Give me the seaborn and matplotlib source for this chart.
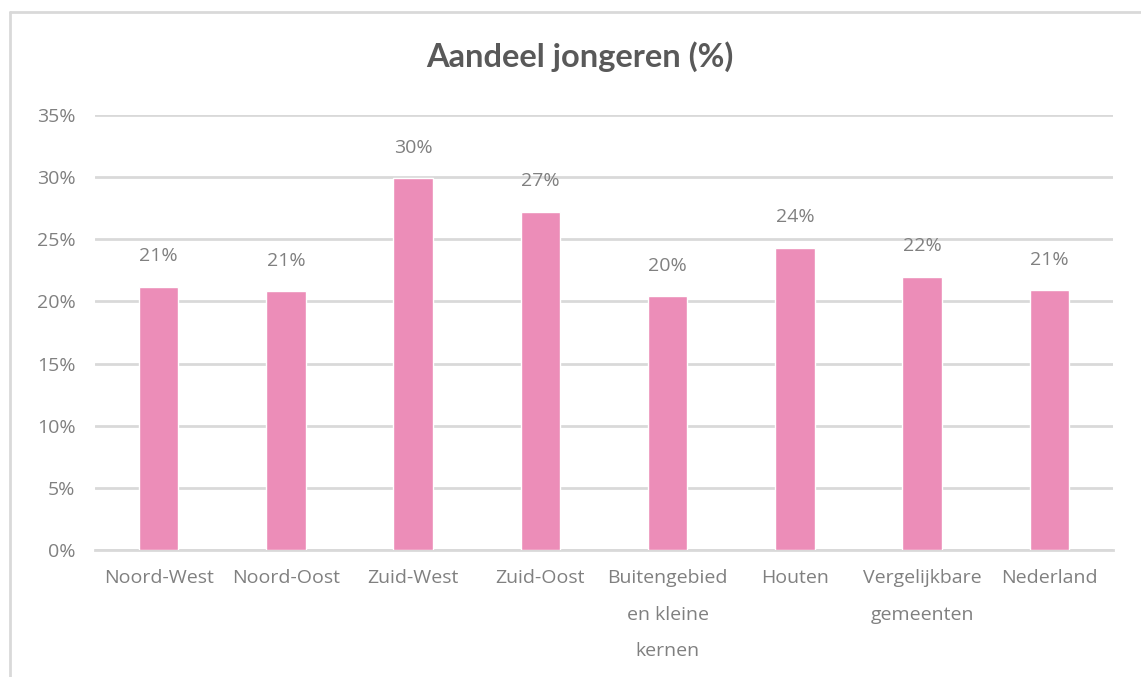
import pandas as pd
import seaborn as sns
import matplotlib.pyplot as plt
from matplotlib.lines import Line2D
from matplotlib.ticker import PercentFormatter

# data
categories = ["Noord-West", "Noord-Oost", "Zuid-West", "Zuid-Oost",
              "Buitengebied\nen kleine\nkernen", "Houten",
              "Vergelijkbare\ngemeenten", "Nederland"]
shares = [0.212, 0.208, 0.299, 0.272, 0.204, 0.243, 0.220, 0.209]
yticks = [0, 0.05, 0.10, 0.15, 0.20, 0.25, 0.30, 0.35]

df = pd.DataFrame({"gebied": categories, "aandeel": shares})

sns.set_theme(style="white")
plt.rcParams['font.family'] = ['Open Sans', 'DejaVu Sans']

grey = "#808080"
grid = "#d9d9d9"

fig = plt.figure(figsize=(11.41, 6.77), dpi=100)
ax = fig.add_axes([0.0833, 0.1876, 0.8922, 0.6425])

sns.barplot(data=df, x="gebied", y="aandeel", color="#ec8db8", width=0.31,
            saturation=1, ax=ax, zorder=3)

ax.set_ylim(0, 0.35)
ax.set_xlim(-0.5, len(categories) - 0.5)
ax.set_yticks(yticks)
ax.yaxis.set_major_formatter(PercentFormatter(1.0, decimals=0))
ax.grid(axis="y", color=grid, linewidth=2, zorder=0)
ax.set_axisbelow(True)
for s in ["top", "right", "left"]:
    ax.spines[s].set_visible(False)
ax.spines["bottom"].set_color(grid)
ax.spines["bottom"].set_linewidth(2)
ax.tick_params(axis="y", length=0, pad=14, labelsize=14, labelcolor=grey)
ax.tick_params(axis="x", length=0, pad=14, labelsize=14, labelcolor=grey)
for lbl in ax.get_xticklabels():
    lbl.set_linespacing(2.3)
ax.set_xlabel("")
ax.set_ylabel("")

# data labels above the bars
for i, v in enumerate(shares):
    ax.annotate(f"{v * 100:.0f}%", (i, v), xytext=(0, 22), textcoords="offset points",
                ha="center", va="center", fontsize=14, color=grey)

fig.text(0.508, 0.916, "Aandeel jongeren (%)", ha="center", va="center",
         fontsize=23.5, fontweight="bold", color="#595959", family=["Lato", "DejaVu Sans"])

# light frame around the chart area (cropped on right and bottom)
fig.add_artist(Line2D([10 / 1141, 10 / 1141], [0, 1 - 12 / 677], color=grid, linewidth=2,
                      transform=fig.transFigure))
fig.add_artist(Line2D([10 / 1141, 1], [1 - 12 / 677, 1 - 12 / 677], color=grid, linewidth=2,
                      transform=fig.transFigure))

fig.savefig("out.png", dpi=100, facecolor="white")
